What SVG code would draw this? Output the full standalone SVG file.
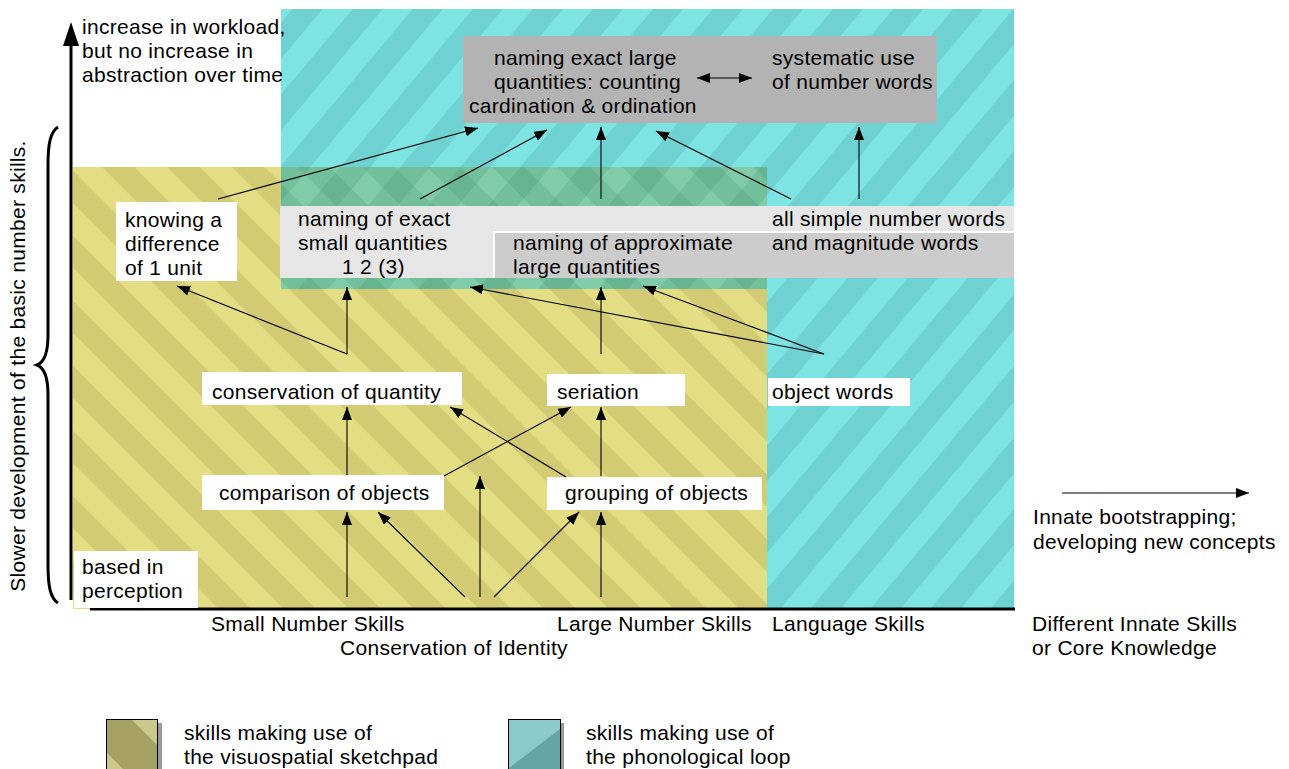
<svg xmlns="http://www.w3.org/2000/svg" width="1289" height="769" viewBox="0 0 1289 769">
  <style>
    text { font-family: "Liberation Sans", Arial, sans-serif; font-size: 21px; letter-spacing: 0.3px; fill: #000; }
    .edge { stroke: #000; stroke-width: 1.1; fill: none; marker-end: url(#head); }
    .box-white { fill: #fff; }
  </style>
  <defs>
    <!-- diagonal stripe fills -->
    <pattern id="cyanStripes" patternUnits="userSpaceOnUse" width="46" height="46" patternTransform="rotate(40)">
      <rect width="46" height="46" fill="#7ee3e3"/>
      <rect width="23" height="46" fill="#6fd1d1"/>
    </pattern>
    <pattern id="yellowStripes" patternUnits="userSpaceOnUse" width="46" height="46" patternTransform="rotate(-45)">
      <rect width="46" height="46" fill="#e3de84"/>
      <rect width="23" height="46" fill="#d2cb73"/>
    </pattern>
    <pattern id="overA" patternUnits="userSpaceOnUse" width="46" height="46" patternTransform="rotate(40)">
      <rect width="23" height="46" fill="#3c8a66" fill-opacity="0.2"/>
    </pattern>
    <pattern id="overB" patternUnits="userSpaceOnUse" width="46" height="46" patternTransform="rotate(-45)">
      <rect width="23" height="46" fill="#3c8a66" fill-opacity="0.2"/>
    </pattern>
    <marker id="head" markerUnits="userSpaceOnUse" markerWidth="14" markerHeight="10" refX="13" refY="5" orient="auto">
      <path d="M0,0 L13,5 L0,10 Z" fill="#000"/>
    </marker>
    <marker id="tail" markerUnits="userSpaceOnUse" markerWidth="14" markerHeight="10" refX="0" refY="5" orient="auto">
      <path d="M13,0 L0,5 L13,10 Z" fill="#000"/>
    </marker>
  </defs>

  <rect width="1289" height="769" fill="#fff"/>

  <!-- skill areas -->
  <g id="areas">
    <rect x="281" y="9" width="733" height="600" fill="url(#cyanStripes)"/>
    <rect x="73" y="167" width="694" height="442" fill="url(#yellowStripes)"/>
    <rect x="281" y="167" width="486" height="122" fill="#80cca9"/>
    <rect x="281" y="167" width="486" height="122" fill="url(#overA)"/>
    <rect x="281" y="167" width="486" height="122" fill="url(#overB)"/>
  </g>

  <!-- axes and brace -->
  <g id="axes">
    <line x1="71" y1="600" x2="71" y2="42" stroke="#000" stroke-width="3"/>
    <path d="M71,22 L79,46 L63,46 Z" fill="#000"/>
    <line x1="90" y1="609" x2="1015" y2="609" stroke="#000" stroke-width="3"/>
    <path d="M58,127 C50,132 48,145 48,165 L48,335 C48,352 45,362 37,365 C45,368 48,378 48,395 L48,565 C48,585 50,598 58,603" fill="none" stroke="#000" stroke-width="3"/>
    <text transform="translate(25,366) rotate(-90)" text-anchor="middle">Slower development of the basic number skills.</text>
    <text x="82" y="34">increase in workload,</text>
    <text x="82" y="58">but no increase in</text>
    <text x="82" y="82">abstraction over time</text>
  </g>

  <g id="node-counting">
    <rect x="463" y="36" width="474" height="87" fill="#b3b3b3"/>
    <text x="494" y="65">naming exact large</text>
    <text x="494" y="89">quantities: counting</text>
    <text x="469" y="113">cardination &amp; ordination</text>
  </g>
  <g id="node-systematic">
    <text x="772" y="65">systematic use</text>
    <text x="772" y="89">of number words</text>
  </g>

  <g id="node-exact-small">
    <rect x="280" y="206" width="734" height="72" fill="#e6e6e6"/>
    <text x="298" y="226">naming of exact</text>
    <text x="298" y="250">small quantities</text>
    <text x="342" y="274">1 2 (3)</text>
  </g>
  <g id="node-approx-large">
    <rect x="493" y="231" width="521" height="47" fill="#fff"/>
    <rect x="495" y="233" width="519" height="45" fill="#cccccc"/>
    <text x="513" y="250">naming of approximate</text>
    <text x="513" y="274">large quantities</text>
  </g>
  <g id="node-number-words">
    <text x="772" y="226">all simple number words</text>
    <text x="772" y="250">and magnitude words</text>
  </g>

  <g id="node-difference">
    <rect class="box-white" x="116" y="202" width="121" height="79"/>
    <text x="125" y="227">knowing a</text>
    <text x="125" y="251">difference</text>
    <text x="125" y="275">of 1 unit</text>
  </g>

  <g id="node-conservation">
    <rect class="box-white" x="202" y="372" width="260" height="33"/>
    <text x="212" y="399">conservation of quantity</text>
  </g>
  <g id="node-seriation">
    <rect class="box-white" x="547" y="374" width="138" height="32"/>
    <text x="557" y="399">seriation</text>
  </g>
  <g id="node-object-words">
    <rect class="box-white" x="768" y="378" width="142" height="28"/>
    <text x="772" y="399">object words</text>
  </g>
  <g id="node-comparison">
    <rect class="box-white" x="202" y="475" width="242" height="35"/>
    <text x="219" y="500">comparison of objects</text>
  </g>
  <g id="node-grouping">
    <rect class="box-white" x="547" y="477" width="215" height="33"/>
    <text x="565" y="500">grouping of objects</text>
  </g>
  <g id="node-perception">
    <rect class="box-white" x="74" y="551" width="124" height="57"/>
    <text x="82" y="574">based in</text>
    <text x="82" y="598">perception</text>
  </g>

  <!-- connectors -->
  <g id="connectors">
    <path class="edge" d="M347,597 L347,512"/>
    <path class="edge" d="M465,597 L378,512"/>
    <path class="edge" d="M480,597 L480,476"/>
    <path class="edge" d="M494,597 L579,512"/>
    <path class="edge" d="M601,597 L601,512"/>
    <path class="edge" d="M347,475 L347,407"/>
    <path class="edge" d="M444,476 L571,407"/>
    <path class="edge" d="M566,477 L450,407"/>
    <path class="edge" d="M601,476 L601,407"/>
    <path class="edge" d="M347,354 L347,287"/>
    <path class="edge" d="M347,354 L177,286"/>
    <path class="edge" d="M601,354 L601,287"/>
    <path class="edge" d="M824,354 L470,287"/>
    <path class="edge" d="M824,354 L643,286"/>
    <path class="edge" d="M218,199 L478,128"/>
    <path class="edge" d="M420,199 L547,130"/>
    <path class="edge" d="M601,199 L601,127"/>
    <path class="edge" d="M791,199 L656,131"/>
    <path class="edge" d="M859,199 L859,127"/>
    <path class="edge" d="M697,78 L752,78" marker-start="url(#tail)"/>
    <path class="edge" d="M1062,493 L1249,493"/>
  </g>

  <!-- axis labels -->
  <g id="labels">
    <text x="211" y="631">Small Number Skills</text>
    <text x="557" y="631">Large Number Skills</text>
    <text x="772" y="631">Language Skills</text>
    <text x="340" y="655">Conservation of Identity</text>
    <text x="1032" y="631">Different Innate Skills</text>
    <text x="1032" y="655">or Core Knowledge</text>
    <text x="1033" y="524">Innate bootstrapping;</text>
    <text x="1033" y="549">developing new concepts</text>
  </g>

  <!-- legend -->
  <g id="legend-visuospatial">
    <rect x="110" y="723" width="52" height="50" fill="#999"/>
    <rect x="106.5" y="719.5" width="51" height="50" fill="#a5a165" stroke="#000" stroke-width="1"/>
    <path d="M132,720 L157,720 L157,745 Z" fill="#cbc78d"/>
    <path d="M107,753 L123,769 L107,769 Z" fill="#cbc78d"/>
    <text x="184" y="740">skills making use of</text>
    <text x="184" y="764">the visuospatial sketchpad</text>
  </g>
  <g id="legend-phonological">
    <rect x="512" y="723" width="52" height="50" fill="#999"/>
    <rect x="508.5" y="719.5" width="52" height="50" fill="#65a5a5" stroke="#000" stroke-width="1"/>
    <path d="M509,720 L560,720 L560,729 L509,768 Z" fill="#8cc9c9"/>
    <text x="586" y="740">skills making use of</text>
    <text x="586" y="764">the phonological loop</text>
  </g>
</svg>
